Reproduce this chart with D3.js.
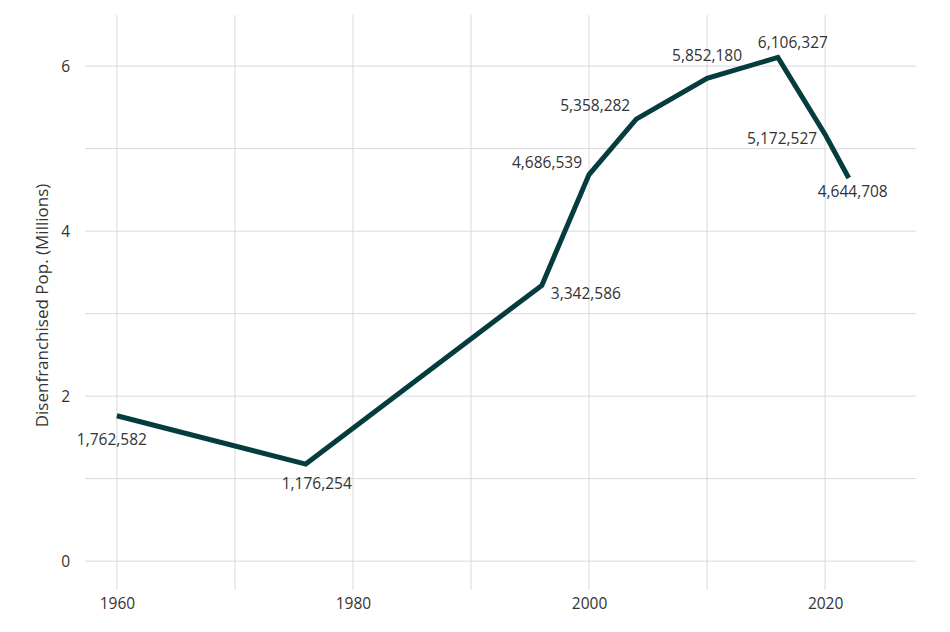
<!DOCTYPE html>
<html>
<head>
<meta charset="utf-8">
<script src="https://cdn.jsdelivr.net/npm/d3@7"></script>
<style>
  body { margin: 0; background: #fff; }
  text { font-family: "Open Sans", "Noto Sans", sans-serif; fill: #333; }
</style>
</head>
<body>
<svg width="950" height="632"></svg>
<script>
// data (population in millions, labels are the raw counts)
const years = [1960, 1976, 1996, 2000, 2004, 2010, 2016, 2020, 2022];
const counts = [1762582, 1176254, 3342586, 4686539, 5358282, 5852180, 6106327, 5172527, 4644708];
const xTicks = [1960, 1980, 2000, 2020];
const xMinor = [1970, 1990, 2010];
const yTicks = [0, 2, 4, 6];
const yMinor = [1, 3, 5];

// label centre offsets from each point (layout only)
const labelPos = [
  {dx: -5, dy: 24, anchor: "middle"},
  {dx: 11, dy: 19, anchor: "middle"},
  {dx: 9, dy: 8, anchor: "start"},
  {dx: -7, dy: -12, anchor: "end"},
  {dx: -6, dy: -14, anchor: "end"},
  {dx: 0, dy: -23, anchor: "middle"},
  {dx: 15, dy: -15, anchor: "middle"},
  {dx: -8, dy: 4, anchor: "end"},
  {dx: 4, dy: 14, anchor: "middle"}
];

const data = years.map((yr, i) => ({year: yr, count: counts[i], value: counts[i] / 1e6}));

const svg = d3.select("svg");
const mLeft = 85, mRight = 916, mTop = 15, mBottom = 590;

const x = d3.scaleLinear().domain([1957.3, 2027.7]).range([mLeft, mRight]);
const y = d3.scaleLinear().domain([-0.35, 6.62]).range([mBottom, mTop]);

// grid
const grid = svg.append("g").attr("stroke", "#d9d9d9").attr("stroke-width", 1);
grid.selectAll(".hy").data(yTicks.concat(yMinor)).enter().append("line")
  .attr("x1", mLeft).attr("x2", mRight)
  .attr("y1", d => y(d)).attr("y2", d => y(d));
grid.selectAll(".vx").data(xTicks.concat(xMinor)).enter().append("line")
  .attr("x1", d => x(d)).attr("x2", d => x(d))
  .attr("y1", mTop).attr("y2", mBottom);

// axes (no domain line, no ticks, only labels)
const xAxis = svg.append("g")
  .attr("transform", `translate(0,${mBottom})`)
  .call(d3.axisBottom(x).tickValues(xTicks).tickFormat(d3.format("d")).tickSize(0).tickPadding(8));
xAxis.select(".domain").remove();
xAxis.selectAll("text").style("font-size", "15.5px").attr("fill", "#333");

const yAxis = svg.append("g")
  .attr("transform", `translate(${mLeft},0)`)
  .call(d3.axisLeft(y).tickValues(yTicks).tickFormat(d3.format("d")).tickSize(0).tickPadding(15));
yAxis.select(".domain").remove();
yAxis.selectAll("text").style("font-size", "15.5px").attr("fill", "#333");

svg.append("text")
  .attr("transform", `translate(42,${(mTop + mBottom) / 2 + 3}) rotate(-90)`)
  .attr("text-anchor", "middle")
  .attr("dy", "0.35em")
  .style("font-size", "17px")
  .text("Disenfranchised Pop. (Millions)");

// line
const line = d3.line().x(d => x(d.year)).y(d => y(d.value));
svg.append("path")
  .datum(data)
  .attr("d", line)
  .attr("fill", "none")
  .attr("stroke", "#053c3e")
  .attr("stroke-width", 5)
  .attr("stroke-linejoin", "miter");

// labels
svg.selectAll(".lbl").data(data).enter().append("text")
  .attr("x", (d, i) => x(d.year) + labelPos[i].dx)
  .attr("y", (d, i) => y(d.value) + labelPos[i].dy)
  .attr("dy", "0.35em")
  .attr("text-anchor", (d, i) => labelPos[i].anchor)
  .style("font-size", "15.5px")
  .text(d => d3.format(",")(d.count));
</script>
</body>
</html>
